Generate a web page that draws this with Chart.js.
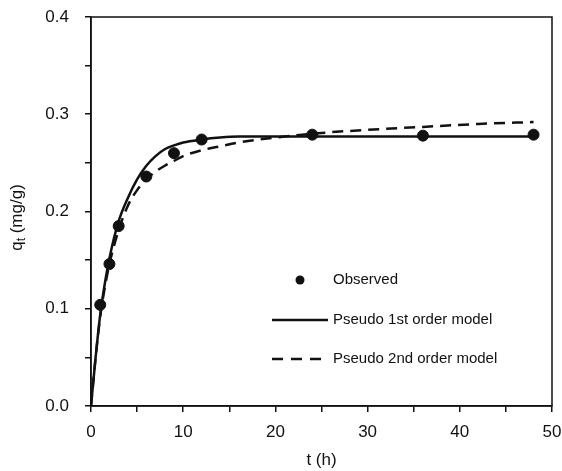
<!DOCTYPE html>
<html>
<head>
<meta charset="utf-8">
<script src="https://cdn.jsdelivr.net/npm/chart.js@4"></script>
<style>
  html, body { margin: 0; padding: 0; background: #fff; }
  #wrap { width: 562px; height: 471px; position: relative; }
</style>
</head>
<body>
<div id="wrap"><canvas id="c" width="562" height="471"></canvas></div>
<script>
// Adsorption kinetics: observed uptake and the two fitted models
const tObs = [1, 2, 3, 6, 9, 12, 24, 36, 48];
const qObs = [0.104, 0.146, 0.185, 0.236, 0.260, 0.274, 0.279, 0.278, 0.279];

const tModel = [0, 0.5, 1, 1.5, 2, 3, 4, 5, 6, 7, 8, 9, 10, 12, 14, 16, 20, 24, 30, 36, 42, 48];
const qFirstOrder = [0, 0.050, 0.094, 0.126, 0.152, 0.190, 0.214, 0.233, 0.247, 0.257, 0.264, 0.268, 0.271, 0.274, 0.276, 0.277, 0.277, 0.277, 0.277, 0.277, 0.277, 0.277];
const qSecondOrder = [0, 0.050, 0.092, 0.122, 0.146, 0.181, 0.206, 0.222, 0.233, 0.241, 0.247, 0.252, 0.257, 0.263, 0.267, 0.271, 0.276, 0.280, 0.284, 0.287, 0.290, 0.292];

const xTicks = [0, 10, 20, 30, 40, 50];
const yTicks = [0.0, 0.1, 0.2, 0.3, 0.4];

const seriesNames = ['Observed', 'Pseudo 1st order model', 'Pseudo 2nd order model'];

const pts = (xs, ys) => xs.map((x, i) => ({ x: x, y: ys[i] }));

const FONT = 'Arial, "Liberation Sans", Helvetica, sans-serif';
const INK = '#111';

// Box frame, y-axis title with subscript, and the in-plot legend
const decorations = {
  id: 'decorations',
  afterDraw(chart) {
    const ctx = chart.ctx;
    const a = chart.chartArea;
    ctx.save();
    ctx.strokeStyle = INK;
    ctx.lineWidth = 1.5;
    ctx.strokeRect(a.left, a.top, a.right - a.left, a.bottom - a.top);

    // y title: q_t (mg/g)
    ctx.translate(17, (a.top + a.bottom) / 2 + 6);
    ctx.rotate(-Math.PI / 2);
    ctx.fillStyle = INK;
    ctx.textBaseline = 'middle';
    const big = '17px ' + FONT, small = '12px ' + FONT;
    ctx.font = big;
    const wq = ctx.measureText('q').width;
    ctx.font = small;
    const wt = ctx.measureText('t').width;
    ctx.font = big;
    const rest = ' (mg/g)';
    const wr = ctx.measureText(rest).width;
    const total = wq + wt + wr;
    let x0 = -total / 2;
    ctx.textAlign = 'left';
    ctx.fillText('q', x0, 0);
    ctx.font = small;
    ctx.fillText('t', x0 + wq, 5);
    ctx.font = big;
    ctx.fillText(rest, x0 + wq + wt, 0);
    ctx.restore();

    // legend
    ctx.save();
    ctx.fillStyle = INK;
    ctx.strokeStyle = INK;
    ctx.font = '15px ' + FONT;
    ctx.textBaseline = 'middle';
    ctx.textAlign = 'left';
    const tx = 333;
    const rows = [280, 320, 359];
    ctx.beginPath();
    ctx.arc(300, rows[0], 4.5, 0, Math.PI * 2);
    ctx.fill();
    ctx.fillText(seriesNames[0], tx, rows[0]);

    ctx.lineWidth = 2.5;
    ctx.beginPath();
    ctx.moveTo(272, rows[1]);
    ctx.lineTo(328, rows[1]);
    ctx.stroke();
    ctx.fillText(seriesNames[1], tx, rows[1]);

    ctx.setLineDash([11, 8]);
    ctx.beginPath();
    ctx.moveTo(272, rows[2]);
    ctx.lineTo(322, rows[2]);
    ctx.stroke();
    ctx.setLineDash([]);
    ctx.fillText(seriesNames[2], tx, rows[2]);
    ctx.restore();
  }
};

new Chart(document.getElementById('c'), {
  type: 'scatter',
  data: {
    datasets: [
      {
        label: seriesNames[0],
        data: pts(tObs, qObs),
        backgroundColor: INK,
        borderColor: INK,
        pointRadius: 5.5,
        pointHoverRadius: 5.5,
        showLine: false,
        order: 0
      },
      {
        label: seriesNames[1],
        data: pts(tModel, qFirstOrder),
        showLine: true,
        borderColor: INK,
        borderWidth: 2.5,
        pointRadius: 0,
        cubicInterpolationMode: 'monotone',
        order: 1
      },
      {
        label: seriesNames[2],
        data: pts(tModel, qSecondOrder),
        showLine: true,
        borderColor: INK,
        borderWidth: 2.5,
        borderDash: [11, 7],
        pointRadius: 0,
        cubicInterpolationMode: 'monotone',
        order: 2
      }
    ]
  },
  options: {
    responsive: false,
    animation: false,
    layout: { padding: { left: 0, right: 10, top: 17, bottom: 0 } },
    plugins: { legend: { display: false }, tooltip: { enabled: false } },
    scales: {
      x: {
        type: 'linear',
        min: 0, max: 50,
        afterFit(scale) {
          scale.height = 65;
          scale.paddingLeft = 0;
          scale.paddingRight = 0;
        },
        border: { display: true, color: INK, width: 1.5 },
        grid: { display: true, drawOnChartArea: false, drawTicks: true, tickLength: 6, color: INK, lineWidth: 1.5 },
        afterBuildTicks(scale) {
          scale.ticks = [];
          for (let v = 0; v <= 50; v += 5) scale.ticks.push({ value: v });
        },
        ticks: {
          autoSkip: false,
          padding: 10,
          color: INK,
          font: { family: FONT, size: 17 },
          callback: (v) => xTicks.includes(v) ? String(v) : ''
        },
        title: {
          display: true,
          text: 't (h)',
          color: INK,
          font: { family: FONT, size: 17 },
          padding: { top: 0, bottom: 0 }
        }
      },
      y: {
        type: 'linear',
        min: 0, max: 0.4,
        afterFit(scale) {
          scale.width = 91;
          scale.paddingTop = 0;
          scale.paddingBottom = 0;
        },
        border: { display: true, color: INK, width: 1.5 },
        grid: { display: true, drawOnChartArea: false, drawTicks: true, tickLength: 6, color: INK, lineWidth: 1.5 },
        afterBuildTicks(scale) {
          scale.ticks = [];
          for (let i = 0; i <= 8; i++) scale.ticks.push({ value: i * 0.05 });
        },
        ticks: {
          autoSkip: false,
          padding: 16,
          color: INK,
          font: { family: FONT, size: 17 },
          callback: (v) => {
            const hit = yTicks.find(t => Math.abs(t - v) < 1e-9);
            return hit !== undefined ? hit.toFixed(1) : '';
          }
        }
      }
    }
  },
  plugins: [decorations]
});
</script>
</body>
</html>
